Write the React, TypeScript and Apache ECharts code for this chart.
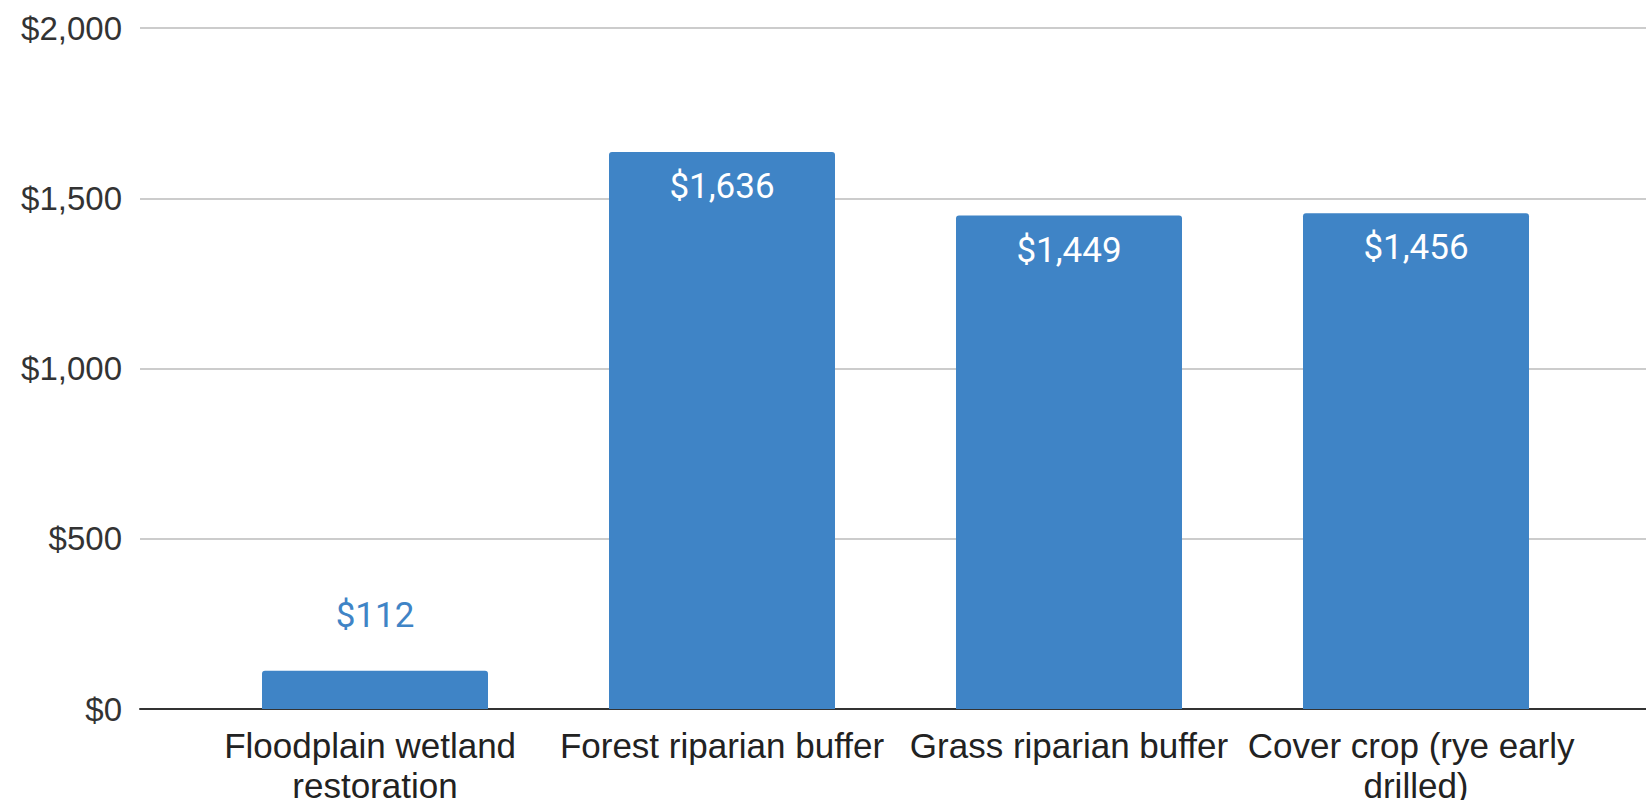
import React, { useEffect, useRef } from "react";
import * as echarts from "echarts";

// Cost per practice, in dollars
const categories = [
  "Floodplain wetland restoration",
  "Forest riparian buffer",
  "Grass riparian buffer",
  "Cover crop (rye early drilled)",
];
const costs = [112, 1636, 1449, 1456];
const yTicks = { min: 0, max: 2000, interval: 500 };

const BAR_COLOR = "#3f84c6";
const AXIS_FONT = "'Liberation Sans', Arial, sans-serif";
const LABEL_FONT = "Roboto, 'Liberation Sans', sans-serif";

const money = (v: number) => "$" + Math.round(v).toLocaleString("en-US");

export default function App() {
  const ref = useRef<HTMLDivElement>(null);

  useEffect(() => {
    if (!ref.current) return;
    const chart = echarts.init(ref.current, null, { renderer: "svg" });

    // Labels sit inside the bar when it is tall enough, otherwise above it
    const barData = costs.map((v) => {
      const inside = v > 400;
      return {
        value: v,
        label: inside
          ? { position: "insideTop", distance: 17, color: "#ffffff" }
          : { position: "top", distance: 38, color: BAR_COLOR },
      };
    });

    const top = 28;
    const height = 681;

    chart.setOption({
      animation: false,
      backgroundColor: "#ffffff",
      grid: [
        // full-width grid carrying the y axis, gridlines and baseline
        { left: 140, right: 0, top, height, outerBoundsMode: "none", containLabel: false },
        // inner grid holding the bars and category labels
        { left: 201.5, width: 1388, top, height, outerBoundsMode: "none", containLabel: false },
      ],
      xAxis: [
        {
          gridIndex: 0,
          type: "category",
          data: [""],
          axisLine: { show: true, lineStyle: { color: "#333333", width: 2 } },
          axisTick: { show: false },
          axisLabel: { show: false },
          splitLine: { show: false },
        },
        {
          gridIndex: 1,
          type: "category",
          data: categories,
          axisLine: { show: false },
          axisTick: { show: false },
          splitLine: { show: false },
          axisLabel: {
            interval: 0,
            margin: 16,
            color: "#222222",
            fontFamily: AXIS_FONT,
            fontSize: 35,
            lineHeight: 40,
            width: 346,
            overflow: "break",
            align: "center",
          },
        },
      ],
      yAxis: [
        {
          gridIndex: 0,
          type: "value",
          ...yTicks,
          axisLine: { show: false },
          axisTick: { show: false },
          axisLabel: {
            margin: 18,
            color: "#333333",
            fontFamily: AXIS_FONT,
            fontSize: 33,
            formatter: (v: number) => money(v),
          },
          splitLine: { show: true, lineStyle: { color: "#cccccc", width: 2 } },
        },
        {
          gridIndex: 1,
          type: "value",
          ...yTicks,
          show: false,
          splitLine: { show: false },
        },
      ],
      series: [
        {
          type: "bar",
          xAxisIndex: 1,
          yAxisIndex: 1,
          data: barData,
          barWidth: 226,
          itemStyle: { color: BAR_COLOR, borderRadius: [3, 3, 0, 0] },
          label: {
            show: true,
            fontFamily: LABEL_FONT,
            fontSize: 35,
            formatter: (p: any) => money(p.value),
          },
          z: 1,
        },
      ],
    });

    return () => chart.dispose();
  }, []);

  return (
    <div
      ref={ref}
      style={{ position: "absolute", left: 0, top: 0, width: 1646, height: 800 }}
    />
  );
}
